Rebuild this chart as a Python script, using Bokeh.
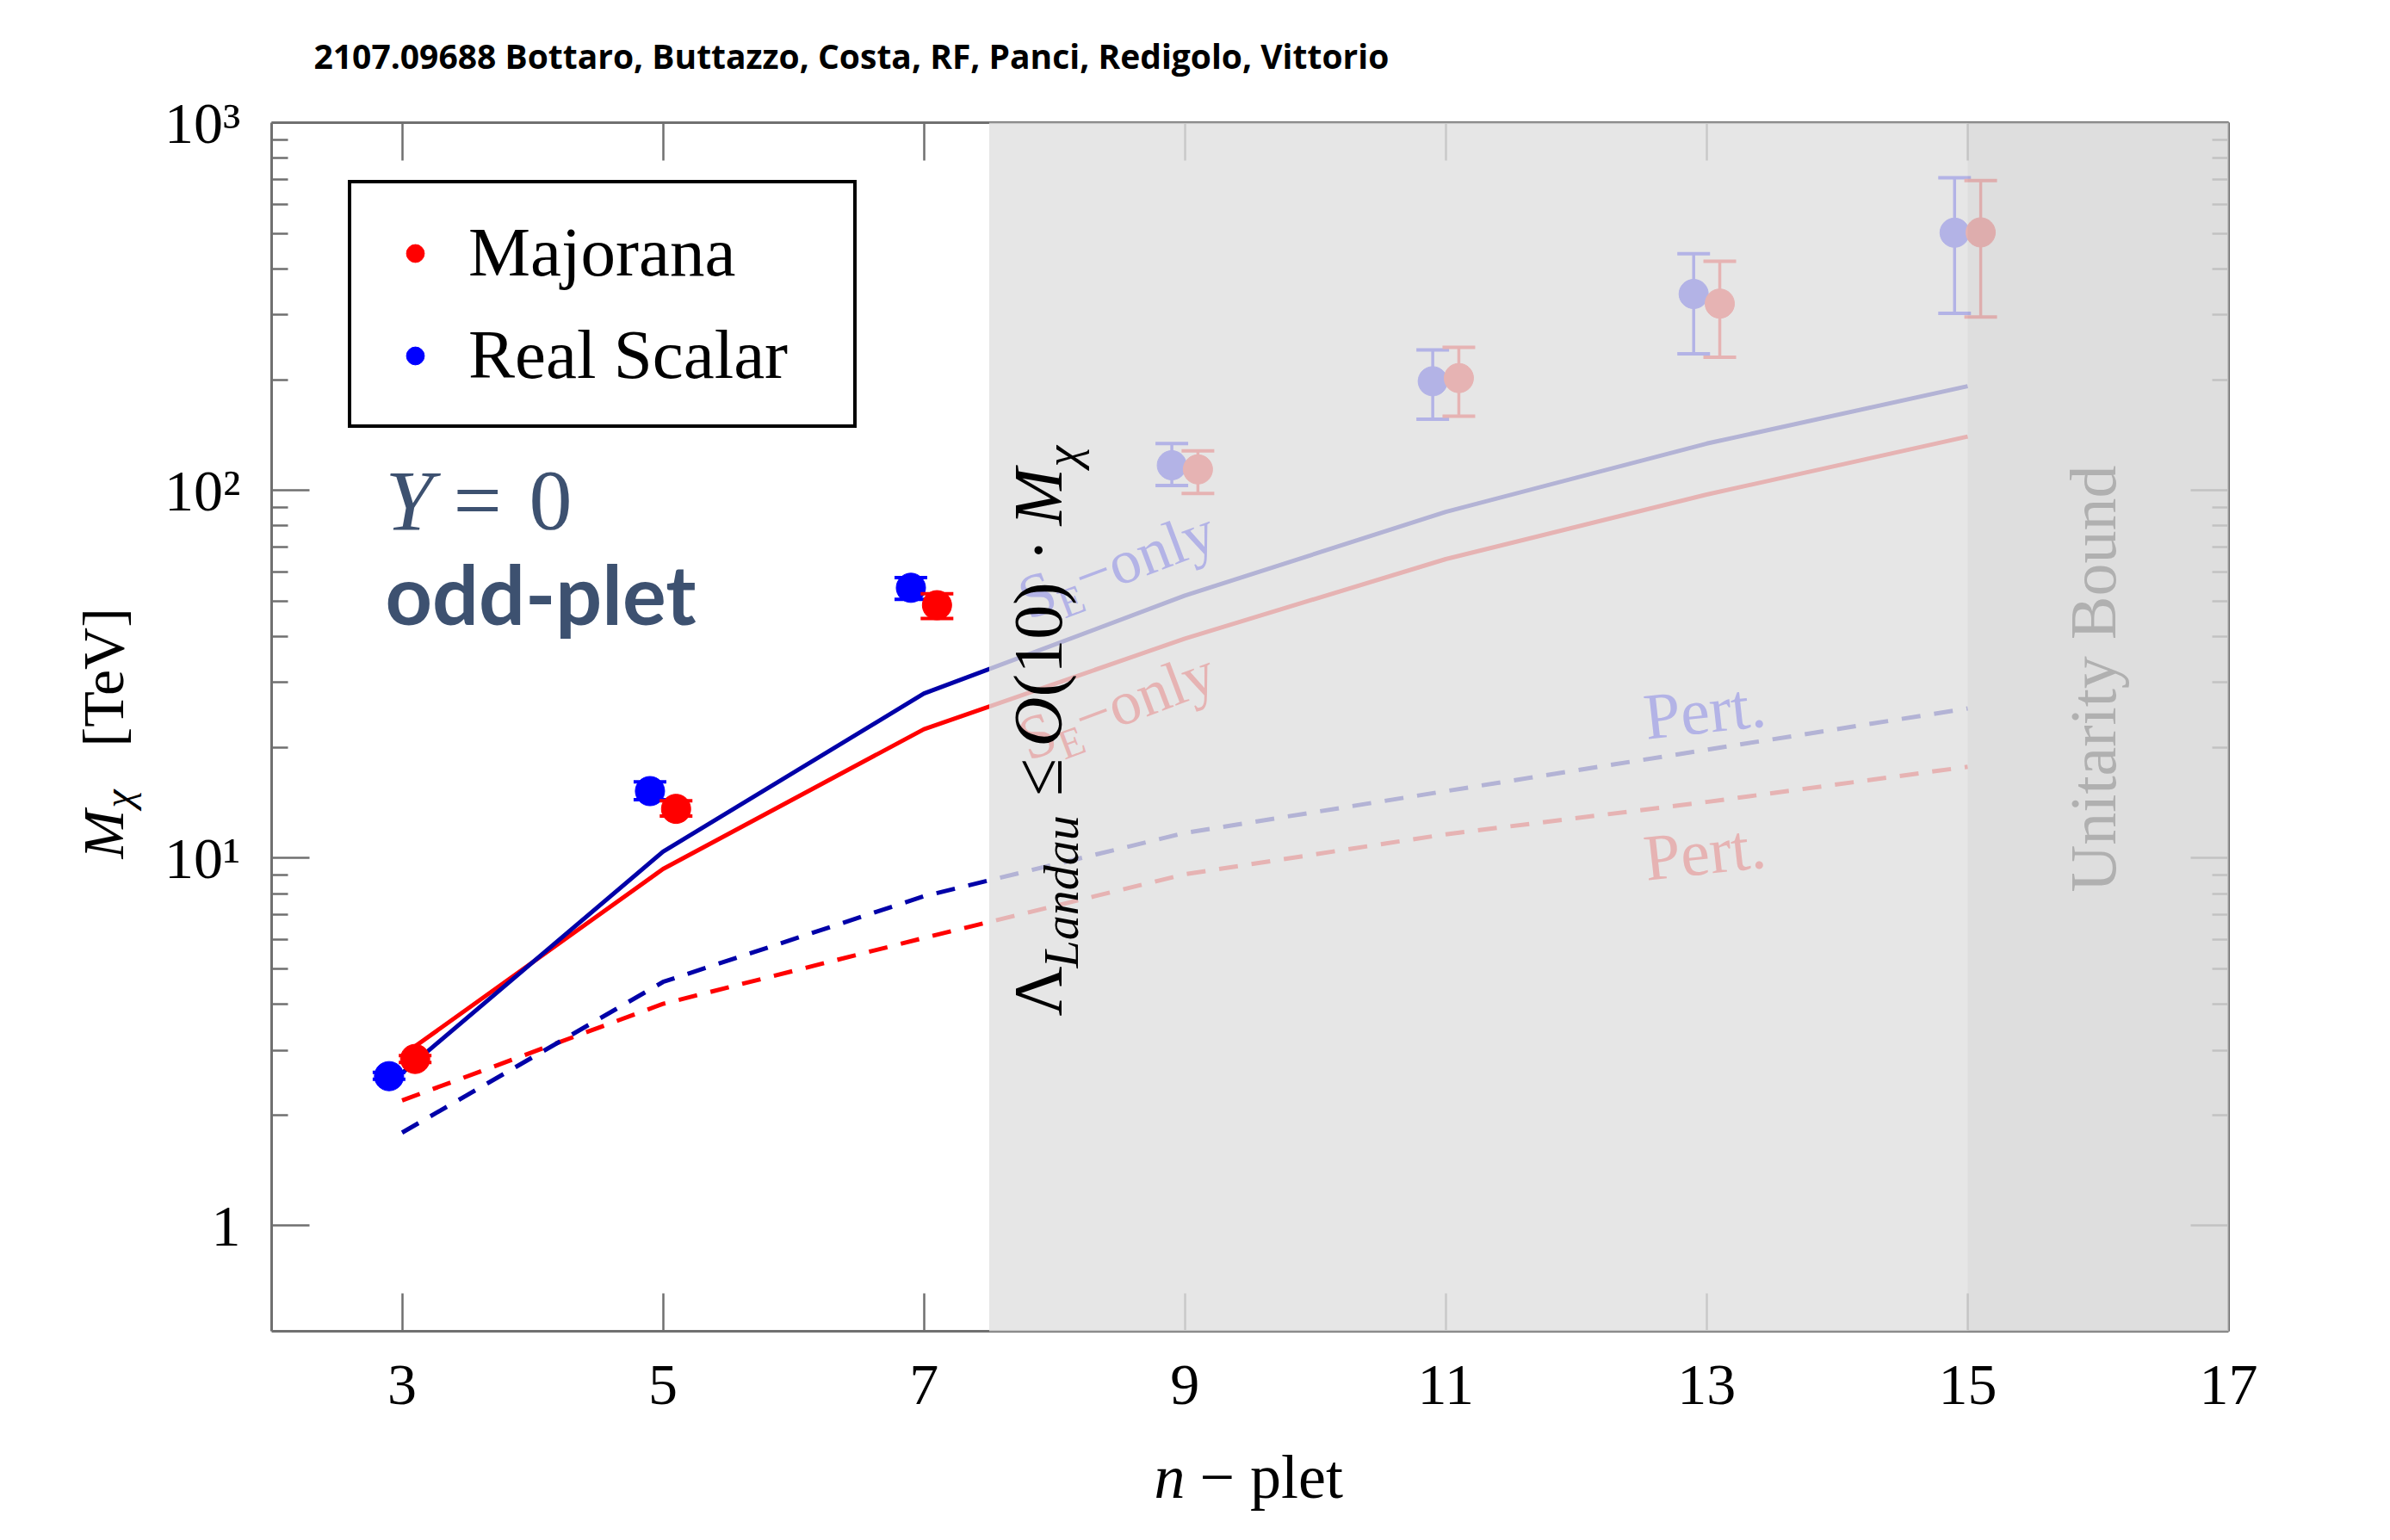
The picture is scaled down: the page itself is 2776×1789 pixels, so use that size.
import math
from bokeh.plotting import figure
from bokeh.models import (Range1d, LinearAxis, LogAxis, FixedTicker,
                          BoxAnnotation, Label, Legend, LegendItem)
from bokeh.embed import file_html
from bokeh.resources import INLINE

# ---------------- data ----------------
n_plet = [3, 5, 7, 9, 11, 13, 15]

majorana_mass = [2.84, 13.6, 48.7, 114, 202, 322, 503]
majorana_low = [2.78, 13.0, 44.8, 98, 159, 230, 296]
majorana_high = [2.90, 14.3, 52.3, 128, 245, 420, 696]

scalar_mass = [2.55, 15.2, 54.3, 117, 198, 342, 502]
scalar_low = [2.50, 14.4, 50.5, 103, 156, 235, 303]
scalar_high = [2.61, 16.1, 57.9, 134, 241, 440, 708]

majorana_se_only = [2.9, 9.33, 22.4, 39.5, 65.0, 97.4, 140]
scalar_se_only = [2.6, 10.4, 28.0, 51.7, 87.4, 134, 192]
majorana_pert = [2.19, 4.01, 6.06, 9.03, 11.6, 14.2, 17.7]
scalar_pert = [1.79, 4.60, 7.87, 11.7, 15.2, 19.7, 25.5]

x_ticks = [3, 5, 7, 9, 11, 13, 15, 17]
y_ticks = [1, 10, 100, 1000]
y_tick_labels = ["1", "10¹", "10²", "10³"]
y_minor_ticks = [m * 10 ** d for d in (0, 1, 2) for m in range(2, 10)]

landau_cut = 7.5       # start of the Landau-pole shaded region
unitarity_cut = 15     # start of the unitarity band

title_text = "2107.09688 Bottaro,  Buttazzo, Costa, RF, Panci, Redigolo, Vittorio"

# ---------------- layout constants ----------------
X0, X1 = 2, 17
Y0, Y1 = 0.516, 1000
W, H = 2741, 1780
FL, FR, FT, FB = 315, 2588, 142, 1546      # frame edges in page pixels
DODGE = 0.1

RED = "#ff0000"
BLUE = "#0000ff"
NAVY = "#0000a8"
AX = "#707070"
LBLUE = "#b3b3e6"
LRED = "#e6b3b3"
SLATE = "#3d5170"
SERIF = "Liberation Serif"
CORR = {SERIF: 0.3375, "Lato": 0.387, "Open Sans": 0.36}


def dx(px):
    return X0 + (px - FL) * (X1 - X0) / (FR - FL)


def dy(py):
    l0, l1 = math.log10(Y0), math.log10(Y1)
    return 10 ** (l1 - (py - FT) * (l1 - l0) / (FB - FT))


p = figure(width=W, height=H, x_range=Range1d(X0, X1), y_range=Range1d(Y0, Y1),
           y_axis_type="log",
           x_axis_location=None, y_axis_location=None,
           output_backend="svg", toolbar_location=None,
           min_border_left=FL, min_border_right=W - FR,
           min_border_top=FT, min_border_bottom=H - FB,
           background_fill_color="white", border_fill_color="white",
           outline_line_color=None)
p.grid.visible = False


def style_axis(ax):
    ax.axis_line_color = AX
    ax.axis_line_width = 3
    ax.major_tick_line_color = AX
    ax.major_tick_line_width = 2.5
    ax.minor_tick_line_color = AX
    ax.minor_tick_line_width = 2.5
    ax.major_tick_in = 44
    ax.major_tick_out = 0
    ax.minor_tick_in = 19
    ax.minor_tick_out = 0
    ax.major_label_text_font = SERIF
    ax.major_label_text_font_size = "68px"
    ax.major_label_text_color = "black"


xb = LinearAxis(ticker=FixedTicker(ticks=x_ticks, minor_ticks=[]))
style_axis(xb)
xb.major_label_standoff = 40
p.add_layout(xb, "below")

xt = LinearAxis(ticker=FixedTicker(ticks=x_ticks, minor_ticks=[]),
                major_label_overrides={t: "" for t in x_ticks})
style_axis(xt)
xt.major_label_standoff = 0
xt.major_label_text_font_size = "0px"
p.add_layout(xt, "above")

yl = LogAxis(ticker=FixedTicker(ticks=y_ticks, minor_ticks=y_minor_ticks),
             major_label_overrides=dict(zip(y_ticks, y_tick_labels)))
style_axis(yl)
yl.major_label_standoff = 36
p.add_layout(yl, "left")

yr = LogAxis(ticker=FixedTicker(ticks=y_ticks, minor_ticks=y_minor_ticks),
             major_label_overrides={t: "" for t in y_ticks})
style_axis(yr)
yr.major_label_standoff = 0
yr.major_label_text_font_size = "0px"
p.add_layout(yr, "right")

# ---------------- curves ----------------
p.line(n_plet, majorana_pert, line_color=RED, line_width=5, line_dash="22 16")
p.line(n_plet, scalar_pert, line_color=NAVY, line_width=5, line_dash="22 16")
p.line(n_plet, majorana_se_only, line_color=RED, line_width=5)
p.line(n_plet, scalar_se_only, line_color=NAVY, line_width=5)

# ---------------- points with error bars ----------------
maj_x = [v + DODGE for v in n_plet]
sca_x = [v - DODGE for v in n_plet]

p.segment(x0=sca_x, y0=scalar_low, x1=sca_x, y1=scalar_high, line_color=BLUE, line_width=3.5)
p.scatter(sca_x + sca_x, scalar_low + scalar_high, marker="dash", size=38,
          line_color=BLUE, line_width=4)
r_sca = p.scatter(sca_x, scalar_mass, size=34, fill_color=BLUE, line_color=BLUE)

p.segment(x0=maj_x, y0=majorana_low, x1=maj_x, y1=majorana_high, line_color=RED, line_width=3.5)
p.scatter(maj_x + maj_x, majorana_low + majorana_high, marker="dash", size=38,
          line_color=RED, line_width=4)
r_maj = p.scatter(maj_x, majorana_mass, size=34, fill_color=RED, line_color=RED)

# ---------------- shaded regions ----------------
p.add_layout(BoxAnnotation(left=landau_cut, right=dx(FR + 3), bottom=dy(FB + 10), top=dy(FT - 3),
                           fill_color="#e0e0e0", fill_alpha=0.8, line_color=None))
p.add_layout(BoxAnnotation(left=unitarity_cut, right=dx(FR + 3), bottom=dy(FB + 10), top=dy(FT - 3),
                           fill_color="black", fill_alpha=0.03, line_color=None))


# ---------------- texts ----------------
def lab(px, py, text, size, font=SERIF, style="normal", color="black", angle=0.0,
        align="left", place="center"):
    # (px, py): baseline point in page pixels
    c = CORR.get(font, 0.34) * size
    px2 = px - c * math.sin(angle)
    py2 = py - c * math.cos(angle)
    lbl = Label(x=dx(px2), y=dy(py2), text=text, text_font=font,
                text_font_size=f"{size}px", text_font_style=style,
                text_color=color, angle=angle, text_align=align,
                text_baseline="alphabetic")
    if place == "center":
        p.add_layout(lbl)
    else:
        p.add_layout(lbl, place)


R90 = math.pi / 2

# title
lab(364, 78, title_text, 39, font="Open Sans", style="bold", place="above")

# y axis label  (M_chi [TeV]) rotated
lab(142, 997, "M", 68, style="italic", angle=R90, place="left")
lab(153, 938, "χ", 48, style="italic", angle=R90, place="right")
lab(142, 867, "[TeV]", 68, angle=R90, place="left")

# x axis label
lab(1340, 1740, "n", 72, style="italic", place="right")
lab(1393, 1740, "− plet", 72, place="below")

# Y = 0 / odd-plet
lab(447, 615, "Y", 100, style="italic", color=SLATE)
lab(526, 615, "=", 100, color=SLATE)
lab(614, 615, "0", 100, color=SLATE)
lab(447, 725, "odd-plet", 95, font="Lato", style="bold", color=SLATE)

# S_E-only labels (rotated along the curves)
TH = 0.36
ux, uy = math.cos(TH), -math.sin(TH)
vx, vy = math.sin(TH), math.cos(TH)
for (sx, sy, col) in [(1194, 720, LBLUE), (1194, 884, LRED)]:
    lab(sx, sy, "S", 72, color=col, angle=TH)
    lab(sx + 40 * ux + 13 * vx, sy + 40 * uy + 13 * vy, "E", 48, color=col, angle=TH)
    lab(sx + 69 * ux, sy + 69 * uy, "−only", 72, color=col, angle=TH)

# Pert. labels
lab(1912, 858, "Pert.", 76, color=LBLUE, angle=0.11)
lab(1912, 1022, "Pert.", 76, color=LRED, angle=0.11)

# Landau bound (rotated)
LS = 12
lab(1232, 1168 + LS, "Λ", 80, angle=R90)
lab(1252, 1112 + LS, "Landau", 58, style="italic", angle=R90)
lab(1232, 912 + LS, "≤", 80, angle=R90)
lab(1232, 855 + LS, "O", 80, style="italic", angle=R90)
lab(1232, 797 + LS, "(10)", 80, angle=R90)
lab(1232, 640 + LS, "·", 80, angle=R90)
lab(1232, 598 + LS, "M", 80, style="italic", angle=R90)
lab(1252, 530 + LS, "χ", 56, style="italic", angle=R90)

# unitarity bound
lab(2456, 788, "Unitarity Bound", 76, color="#b0b0b0", angle=R90, align="center")

# ---------------- legend ----------------
legend = Legend(items=[LegendItem(label="Majorana", renderers=[r_maj]),
                       LegendItem(label="Real Scalar", renderers=[r_sca])],
                location=(404 - FL, FB - 497), margin=0, padding=34, spacing=26,
                glyph_width=80, glyph_height=52, label_standoff=22,
                label_width=413, label_height=86,
                label_text_font=SERIF, label_text_font_size="81px",
                label_text_color="black",
                border_line_color="black", border_line_width=4, border_line_alpha=1.0,
                background_fill_color="white", background_fill_alpha=1.0)
p.add_layout(legend)

open("out.html", "w").write(file_html(p, INLINE))
